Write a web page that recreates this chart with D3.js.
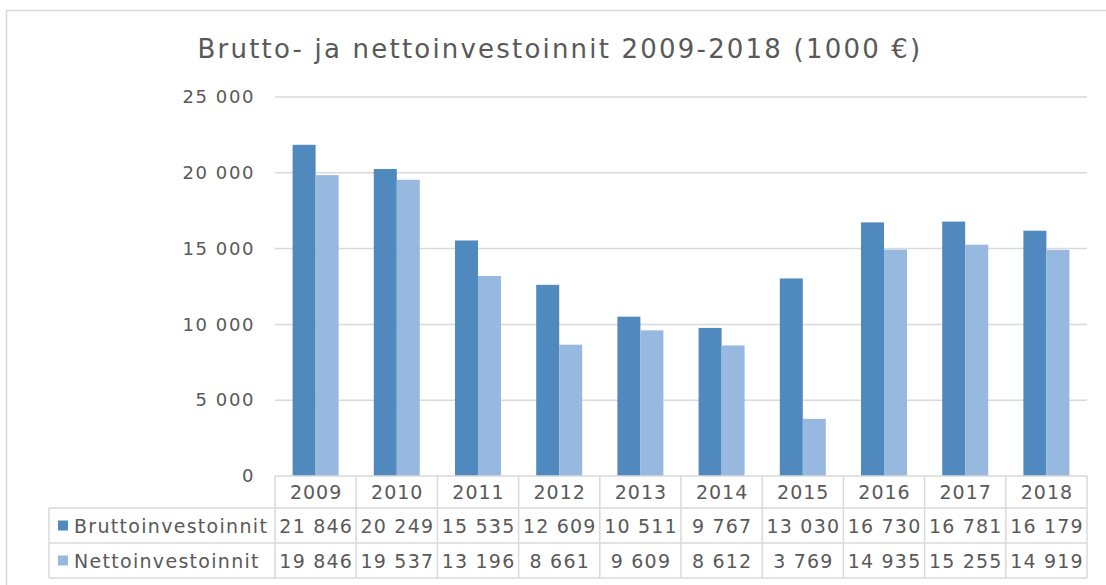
<!DOCTYPE html>
<html><head><meta charset="utf-8">
<script src="https://cdn.jsdelivr.net/npm/d3@7"></script>
<style>body{margin:0;background:#fff}svg{display:block}text{font-family:"DejaVu Sans",sans-serif;fill:#595959}</style>
</head><body><svg id="c" width="1106" height="585"></svg>
<script>
const years = ["2009","2010","2011","2012","2013","2014","2015","2016","2017","2018"];
const seriesNames = ["Bruttoinvestoinnit","Nettoinvestoinnit"];
const brutto = [21846,20249,15535,12609,10511,9767,13030,16730,16781,16179];
const netto = [19846,19537,13196,8661,9609,8612,3769,14935,15255,14919];
const yTicks = [0,5000,10000,15000,20000,25000];
const colors = ["#4f89bd","#97b9e0"];
const title = "Brutto- ja nettoinvestoinnit 2009-2018 (1000 €)";

(function(){
const svg = d3.select("#c");
const grid = "#d9d9d9";
const fmt = d3.formatLocale({decimal:",",thousands:" ",grouping:[3],currency:["","€"]}).format(",d");

svg.append("rect").attr("x",6.5).attr("y",10.5).attr("width",1110).attr("height",590)
  .attr("fill","#fff").attr("stroke",grid).attr("stroke-width",1.5);

const pLeft=275,pRight=1087,pTop=97,pBase=476;
const y = d3.scaleLinear().domain([0,25000]).range([pBase,pTop]);
const x0 = d3.scaleBand().domain(years).range([pLeft,pRight]).paddingInner(0.4335).paddingOuter(0.21675);
const x1 = d3.scaleBand().domain(seriesNames).range([0,x0.bandwidth()]);
const cols = d3.scaleBand().domain(years).range([pLeft,pRight]);

svg.append("text").attr("x",560).attr("y",58).attr("text-anchor","middle")
  .style("font-size","26px").style("letter-spacing","2.2px").text(title);

svg.append("g").selectAll("line").data(yTicks.filter(d=>d>0)).join("line")
  .attr("x1",pLeft).attr("x2",pRight).attr("y1",d=>y(d)).attr("y2",d=>y(d))
  .attr("stroke",grid).attr("stroke-width",1.5);

const yAxis = d3.axisLeft(y).tickValues(yTicks).tickFormat(fmt).tickSize(0).tickPadding(0);
const ya = svg.append("g").attr("transform",`translate(255,0)`).call(yAxis);
ya.select(".domain").remove();
ya.selectAll("text").attr("fill","#595959").style("font-size","18px").style("letter-spacing","1.6px").style("font-family","DejaVu Sans");

const data = years.map((yr,i)=>({year:yr, vals:[brutto[i],netto[i]]}));
const g = svg.append("g").selectAll("g").data(data).join("g")
  .attr("transform",d=>`translate(${x0(d.year)},0)`);
g.selectAll("rect").data(d=>d.vals.map((v,j)=>({s:seriesNames[j],v,j}))).join("rect")
  .attr("x",d=>x1(d.s)).attr("width",x1.bandwidth())
  .attr("y",d=>y(d.v)).attr("height",d=>pBase-y(d.v)).attr("fill",d=>colors[d.j]);

const rowY = [476,508,543,578];
const tbl = svg.append("g");
const lw = 1.5;
tbl.append("line").attr("x1",pLeft).attr("x2",pRight).attr("y1",rowY[0]).attr("y2",rowY[0]).attr("stroke",grid).attr("stroke-width",lw);
[1,2,3].forEach(k=>tbl.append("line").attr("x1",49).attr("x2",pRight).attr("y1",rowY[k]).attr("y2",rowY[k]).attr("stroke",grid).attr("stroke-width",lw));
tbl.selectAll("line.v").data(years.map(yr=>cols(yr)).concat([pRight])).join("line").attr("class","v")
  .attr("x1",d=>d).attr("x2",d=>d).attr("y1",rowY[0]).attr("y2",rowY[3]).attr("stroke",grid).attr("stroke-width",lw);
tbl.append("line").attr("x1",49).attr("x2",49).attr("y1",rowY[1]).attr("y2",rowY[3]).attr("stroke",grid).attr("stroke-width",lw);

tbl.selectAll("text.yr").data(years).join("text").attr("class","yr")
  .attr("x",d=>cols(d)+cols.bandwidth()/2+0.5).attr("y",499).attr("text-anchor","middle")
  .style("font-size","19px").style("letter-spacing","1px").text(d=>d);

[brutto,netto].forEach((arr,k)=>{
  const cy = (rowY[k+1]+rowY[k+2])/2;
  tbl.append("rect").attr("x",58).attr("y",cy-5).attr("width",10).attr("height",10).attr("fill",colors[k]);
  tbl.append("text").attr("x",74).attr("y",cy+7).style("font-size","19px").style("letter-spacing","1.3px").text(seriesNames[k]);
  tbl.selectAll(null).data(arr).join("text")
    .attr("x",(d,i)=>cols(years[i])+cols.bandwidth()/2+0.6).attr("y",cy+7).attr("text-anchor","middle")
    .style("font-size","19px").style("letter-spacing","1.2px").text(d=>fmt(d));
});
})();
</script></body></html>
